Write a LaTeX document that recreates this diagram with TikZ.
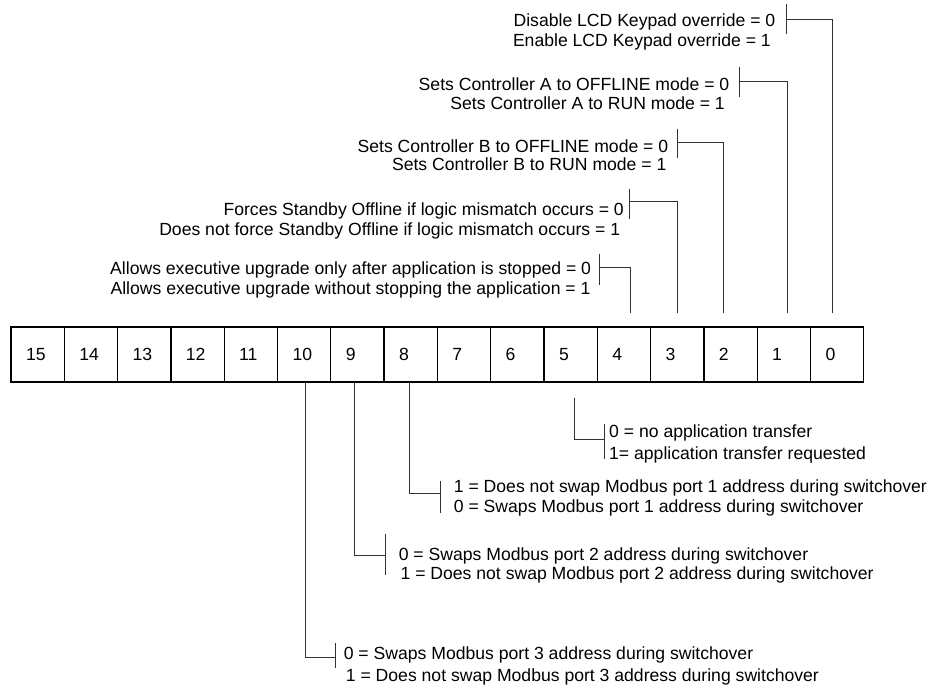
\documentclass[tikz,border=0pt]{standalone}
\usepackage{fontspec}
\setmainfont{Liberation Sans}
\begin{document}
\begin{tikzpicture}[x=1pt,y=-1pt,
  every node/.style={font=\fontsize{17.6}{20}\selectfont},
  cell/.style={draw=black,line width=1.3pt,minimum height=55pt,text width=23.3pt,inner xsep=15pt,inner ysep=0pt,align=left,minimum width=53.3pt},
  conn/.style={draw=black!80,line width=1pt},
  tick/.style={draw=black!80,line width=1pt},
  lblR/.style={anchor=base east,inner sep=0pt},
  lblL/.style={anchor=base west,inner sep=0pt}]
\useasboundingbox (0,0) rectangle (930,689);
% register cells
\foreach \i in {0,...,15}{
  \pgfmathsetmacro{\cx}{11+(15-\i)*53.3+26.65}
  \node[cell] (b\i) at (\cx,354.5) {\i};
}
% tick points
\coordinate (t0) at (786.5,19.8);
\coordinate (t1) at (739.6,81.3);
\coordinate (t2) at (677.3,142.8);
\coordinate (t3) at (629,201);
\coordinate (t4) at (599,267);
\coordinate (t5) at (604.6,439);
\coordinate (t8) at (440,493.5);
\coordinate (t9) at (385.6,555);
\coordinate (t10) at (335.4,657);
% upper connectors
\draw[conn] ([xshift=-4.65pt,yshift=13pt]b0.north) |- (t0);
\draw[conn] ([xshift=3.15pt,yshift=13pt]b1.north) |- (t1);
\draw[conn] ([xshift=-6.95pt,yshift=13pt]b2.north) |- (t2);
\draw[conn] ([xshift=0pt,yshift=13pt]b3.north) |- (t3);
\draw[conn] ([xshift=7pt,yshift=13pt]b4.north) |- (t4);
% lower connectors
\draw[conn] ([xshift=3.85pt,yshift=-15pt]b5.south) |- (t5);
\draw[conn] ([xshift=-1.45pt]b8.south) |- (t8);
\draw[conn] ([xshift=-2.75pt]b9.south) |- (t9);
\draw[conn] ([xshift=1.35pt]b10.south) |- (t10);
% ticks
\draw[tick] ([yshift=15.5pt]t0) -- ([yshift=-14.5pt]t0);
\draw[tick] ([yshift=14.5pt]t1) -- ([yshift=-15.5pt]t1);
\draw[tick] ([yshift=14pt]t2) -- ([yshift=-15.5pt]t2);
\draw[tick] ([yshift=12.5pt]t3) -- ([yshift=-18pt]t3);
\draw[tick] ([yshift=13pt]t4) -- ([yshift=-18pt]t4);
\draw[tick] ([yshift=15pt]t5) -- ([yshift=-20pt]t5);
\draw[tick] ([yshift=12.5pt]t8) -- ([yshift=-19.5pt]t8);
\draw[tick] ([yshift=21pt]t9) -- ([yshift=-20pt]t9);
\draw[tick] ([yshift=14pt]t10) -- ([yshift=-11pt]t10);
% upper labels
\node[lblR] (l0a) at (775.5,26.5) {Disable LCD Keypad override = 0};
\node[lblR] (l0b) at (771,46.5) {Enable LCD Keypad override = 1};
\node[lblR] (l1a) at (729.5,90) {Sets Controller A to OFFLINE mode = 0};
\node[lblR] (l1b) at (725,109.5) {Sets Controller A to RUN mode = 1};
\node[lblR] (l2a) at (668.4,152.3) {Sets Controller B to OFFLINE mode = 0};
\node[lblR] (l2b) at (666.6,170) {Sets Controller B to RUN mode = 1};
\node[lblR] (l3a) at (624,215) {Forces Standby Offline if logic mismatch occurs = 0};
\node[lblR] (l3b) at (620.4,235) {Does not force Standby Offline if logic mismatch occurs = 1};
\node[lblR] (l4a) at (591.3,274.5) {Allows executive upgrade only after application is stopped = 0};
\node[lblR] (l4b) at (590.7,294.7) {Allows executive upgrade without stopping the application = 1};
% lower labels
\node[lblL] (l5a) at (609,437) {0 = no application transfer};
\node[lblL] (l5b) at (609,459) {1= application transfer requested};
\node[lblL] (l8a) at (453.7,492.5) {1 = Does not swap Modbus port 1 address during switchover};
\node[lblL] (l8b) at (453.7,512.6) {0 = Swaps Modbus port 1 address during switchover};
\node[lblL] (l9a) at (398.6,560) {0 = Swaps Modbus port 2 address during switchover};
\node[lblL] (l9b) at (400.4,579) {1 = Does not swap Modbus port 2 address during switchover};
\node[lblL] (l10a) at (343.6,659) {0 = Swaps Modbus port 3 address during switchover};
\node[lblL] (l10b) at (345.7,681) {1 = Does not swap Modbus port 3 address during switchover};
\end{tikzpicture}
\end{document}
